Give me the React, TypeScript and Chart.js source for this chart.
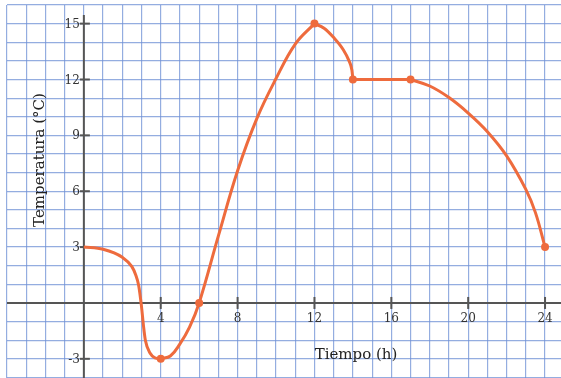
import React, { useEffect, useRef } from "react";
import { Chart, registerables } from "chart.js";

Chart.register(...registerables);

// Curve pieces (x in hours, y in °C)
const pieceAX = [0, 1, 2, 2.5, 2.7, 2.85, 3.0, 3.1, 3.2, 3.45, 3.7, 4];
const pieceAY = [3, 2.88, 2.45, 1.95, 1.5, 0.95, -0.2, -1.2, -2.0, -2.7, -2.95, -3];
const pieceA2X = [4, 4.5, 5, 5.5, 6, 7, 8, 9, 10, 11, 12];
const pieceA2Y = [-3, -2.85, -2.2, -1.3, 0, 3.6, 7.1, 9.9, 12.05, 13.9, 15];
const pieceBX = [12, 12.5, 13, 13.5, 13.8, 13.95, 14];
const pieceBY = [15, 14.75, 14.25, 13.6, 13.0, 12.5, 12];
const pieceCX = [14, 17];
const pieceCY = [12, 12];
const pieceDX = [17, 18, 19, 20, 21, 22, 23, 23.5, 24];
const pieceDY = [12, 11.65, 11.03, 10.2, 9.2, 7.9, 6.1, 4.85, 3];

// Marked points
const markX = [4, 6, 12, 14, 17, 24];
const markY = [-3, 0, 15, 12, 12, 3];

// Axis tick labels
const xTicks = [4, 8, 12, 16, 20, 24];
const yTicks = [-3, 3, 6, 9, 12, 15];

const xTitle = "Tiempo (h)";
const yTitle = "Temperatura (°C)";

const ORANGE = "#ee6b3d";
const GRID = "rgba(112, 146, 214, 0.75)";
const AXIS = "#555555";
const SERIF = '"DejaVu Serif", "Liberation Serif", serif';

const pts = (xs: number[], ys: number[]) => xs.map((x, i) => ({ x, y: ys[i] }));

const axesPlugin = {
  id: "axesPlugin",
  beforeDatasetsDraw(chart: any) {
    const { ctx, chartArea, scales } = chart;
    const xs = scales.x;
    const ys = scales.y;
    const x0 = xs.getPixelForValue(0);
    const y0 = ys.getPixelForValue(0);
    ctx.save();
    ctx.strokeStyle = AXIS;
    ctx.lineWidth = 2;
    ctx.beginPath();
    ctx.moveTo(chartArea.left, y0);
    ctx.lineTo(chartArea.right, y0);
    ctx.moveTo(x0, chartArea.top + 10);
    ctx.lineTo(x0, chartArea.bottom);
    ctx.stroke();

    ctx.fillStyle = "#333333";
    ctx.font = `12px ${SERIF}`;
    ctx.textAlign = "center";
    ctx.textBaseline = "middle";
    xTicks.forEach((v) => {
      const px = xs.getPixelForValue(v);
      ctx.beginPath();
      ctx.moveTo(px, y0 - 6);
      ctx.lineTo(px, y0 + 6);
      ctx.stroke();
      ctx.fillText(String(v), px, y0 + 16);
    });
    ctx.textAlign = "right";
    yTicks.forEach((v) => {
      const py = ys.getPixelForValue(v);
      ctx.beginPath();
      ctx.moveTo(x0 - 4, py);
      ctx.lineTo(x0 + 6, py);
      ctx.stroke();
      ctx.fillText(v < 0 ? "-" + Math.abs(v) : String(v), x0 - 4, py + 1);
    });

    ctx.fillStyle = "#222222";
    ctx.font = `15px ${SERIF}`;
    ctx.textAlign = "center";
    ctx.fillText(xTitle, 356, 355);
    ctx.save();
    ctx.translate(40, 160);
    ctx.rotate(-Math.PI / 2);
    ctx.fillText(yTitle, 0, 0);
    ctx.restore();
    ctx.restore();
  },
};

export default function App() {
  const ref = useRef<HTMLCanvasElement | null>(null);
  useEffect(() => {
    if (!ref.current) return;
    const lineDs = (xs: number[], ys: number[], monotone: boolean) => ({
      data: pts(xs, ys),
      showLine: true,
      borderColor: ORANGE,
      borderWidth: 3,
      pointRadius: 0,
      cubicInterpolationMode: monotone ? ("monotone" as const) : ("default" as const),
      tension: 0.4,
      fill: false,
    });
    const chart = new Chart(ref.current, {
      type: "scatter",
      data: {
        datasets: [
          lineDs(pieceAX, pieceAY, true),
          lineDs(pieceA2X, pieceA2Y, false),
          lineDs(pieceBX, pieceBY, true),
          lineDs(pieceCX, pieceCY, true),
          lineDs(pieceDX, pieceDY, false),
          {
            data: pts(markX, markY),
            showLine: false,
            pointRadius: 4,
            pointBackgroundColor: ORANGE,
            pointBorderColor: ORANGE,
            pointBorderWidth: 0,
          },
        ],
      },
      options: {
        responsive: false,
        animation: false,
        layout: { padding: { left: 7, top: 5, right: 0, bottom: 0 }, autoPadding: false },
        plugins: { legend: { display: false }, tooltip: { enabled: false } },
        scales: {
          x: {
            type: "linear",
            min: -4,
            max: 24.83,
            ticks: { display: false, stepSize: 1, includeBounds: false },
            grid: { color: GRID, lineWidth: 1.2, drawTicks: false },
            border: { display: false },
          },
          y: {
            type: "linear",
            min: -4.03,
            max: 16,
            ticks: { display: false, stepSize: 1, includeBounds: false },
            grid: { color: GRID, lineWidth: 1.2, drawTicks: false },
            border: { display: false },
          },
        },
      },
      plugins: [axesPlugin],
    });
    return () => chart.destroy();
  }, []);
  return (
    <div style={{ position: "absolute", left: 0, top: 0, width: 561, height: 378, background: "#fff" }}>
      <canvas ref={ref} width={561} height={378} />
    </div>
  );
}
